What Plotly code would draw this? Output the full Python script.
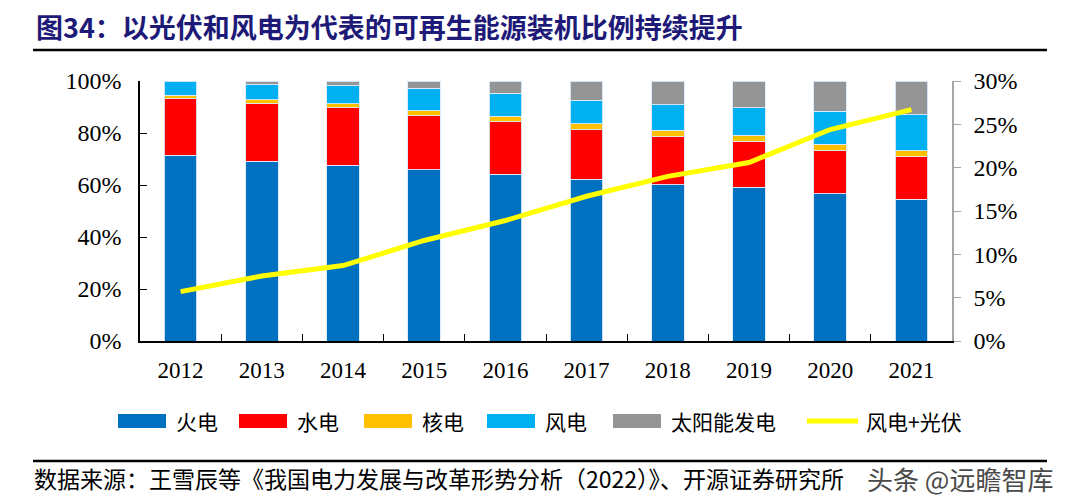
import plotly.graph_objects as go

years = ["2012", "2013", "2014", "2015", "2016", "2017", "2018", "2019", "2020", "2021"]
thermal = [71.4, 69.2, 67.6, 65.8, 64.2, 62.2, 60.1, 59.1, 56.7, 54.5]
hydro = [21.7, 22.1, 22.1, 20.9, 20.1, 19.1, 18.5, 17.8, 16.5, 16.4]
nuclear = [1.4, 1.4, 1.6, 1.8, 2.1, 2.2, 2.4, 2.3, 2.5, 2.3]
wind = [5.2, 5.9, 6.9, 8.7, 8.9, 9.1, 9.8, 10.5, 12.6, 13.8]
solar = [0.3, 1.4, 1.8, 2.8, 4.7, 7.4, 9.2, 10.3, 11.7, 13.0]
wind_solar = [5.7, 7.5, 8.7, 11.6, 13.9, 16.7, 19.0, 20.6, 24.4, 26.7]

names = ["火电", "水电", "核电", "风电", "太阳能发电"]
colors = ["#0070C0", "#FF0000", "#FFC000", "#00B0F0", "#959595"]
line_name = "风电+光伏"
line_color = "#FFFF00"

title_text = "图34：以光伏和风电为代表的可再生能源装机比例持续提升"
source_text = "数据来源：王雪辰等《我国电力发展与改革形势分析（2022）》、开源证券研究所"
watermark = "头条 @远瞻智库"

# page size and page offset (default body margin of the html page)
PW, PH = 1071, 503
OFF = 8
W, H = PW - OFF, PH - OFF
L, R, T, B = 140, 952, 81, 341  # plot area in page pixels


def px(x):
    return (x - L) / (R - L)


def py(y):
    return (B - y) / (B - T)


fig = go.Figure()
for name, vals, c in zip(names, [thermal, hydro, nuclear, wind, solar], colors):
    fig.add_trace(go.Bar(
        x=years, y=[v / 100 for v in vals], name=name,
        marker=dict(color=c, line=dict(color="rgba(220,235,250,0.9)", width=1)),
        showlegend=False,
    ))

fig.add_trace(go.Scatter(
    x=years, y=[v / 100 for v in wind_solar], name=line_name, yaxis="y2",
    mode="lines", line=dict(color=line_color, width=5), showlegend=False,
))

serif = "Liberation Serif, Times New Roman, serif"
cjk = "Noto Sans CJK SC"

fig.update_layout(
    width=W, height=H,
    margin=dict(l=L - OFF, r=PW - R, t=T - OFF, b=PH - B, pad=0),
    paper_bgcolor="white", plot_bgcolor="white",
    barmode="stack", bargap=0.6,
    xaxis=dict(
        type="category", showline=True, linecolor="black", linewidth=1.5,
        ticks="inside", tickson="boundaries", ticklen=7, tickcolor="black",
        tickfont=dict(family=serif, size=23, color="black"),
        showgrid=False, zeroline=False, ticklabelstandoff=8,
    ),
    yaxis=dict(
        range=[0, 1], dtick=0.2, tickformat=".0%",
        showline=True, linecolor="black", linewidth=1.5,
        ticks="inside", ticklen=7, tickcolor="black",
        tickfont=dict(family=serif, size=24, color="black"),
        showgrid=False, zeroline=False, ticklabelstandoff=12,
    ),
    yaxis2=dict(
        range=[0, 0.30], dtick=0.05, tickformat=".0%", overlaying="y", side="right",
        showline=True, linecolor="#A6A6A6", linewidth=1.5,
        ticks="outside", ticklen=7, tickcolor="#A6A6A6",
        tickfont=dict(family=serif, size=24, color="black"),
        showgrid=False, zeroline=False, ticklabelstandoff=8,
    ),
)

shapes = []
annotations = []

# title and rules
annotations.append(dict(
    text="<b>" + title_text + "</b>", x=px(35), y=py(26.5), xref="paper", yref="paper",
    xanchor="left", yanchor="middle", showarrow=False, borderpad=0,
    font=dict(family=cjk, size=27, color="#1E1A78"),
))
shapes.append(dict(type="line", xref="paper", yref="paper", x0=px(33), x1=px(1047),
                   y0=py(50), y1=py(50), line=dict(color="black", width=2.5)))
shapes.append(dict(type="line", xref="paper", yref="paper", x0=px(33), x1=px(1047),
                   y0=py(461), y1=py(461), line=dict(color="black", width=2.5)))
annotations.append(dict(
    text=source_text, x=px(32), y=py(478), xref="paper", yref="paper",
    xanchor="left", yanchor="middle", showarrow=False,
    font=dict(family=cjk, size=23, color="black"),
))
annotations.append(dict(
    text=watermark, x=px(1055), y=py(478), xref="paper", yref="paper",
    xanchor="right", yanchor="middle", showarrow=False,
    bgcolor="rgba(255,255,255,0)",
    font=dict(family=cjk, size=26, color="#4a4a4a"),
))

# custom legend
leg_y = 421
box_x = [118, 239, 364, 487, 613]
for bx, name, c in zip(box_x, names, colors):
    shapes.append(dict(type="rect", xref="paper", yref="paper",
                       x0=px(bx), x1=px(bx + 48), y0=py(leg_y + 7), y1=py(leg_y - 7),
                       fillcolor=c, line=dict(width=0)))
    annotations.append(dict(text=name, x=px(bx + 56), y=py(leg_y), xref="paper", yref="paper",
                            xanchor="left", yanchor="middle", showarrow=False,
                            font=dict(family=cjk, size=21, color="black")))
shapes.append(dict(type="line", xref="paper", yref="paper", x0=px(807), x1=px(858),
                   y0=py(leg_y), y1=py(leg_y), line=dict(color=line_color, width=5)))
annotations.append(dict(text=line_name, x=px(864), y=py(leg_y), xref="paper", yref="paper",
                        xanchor="left", yanchor="middle", showarrow=False,
                        font=dict(family=cjk, size=21, color="black")))

fig.update_layout(shapes=shapes, annotations=annotations)
fig.write_html("out.html")
